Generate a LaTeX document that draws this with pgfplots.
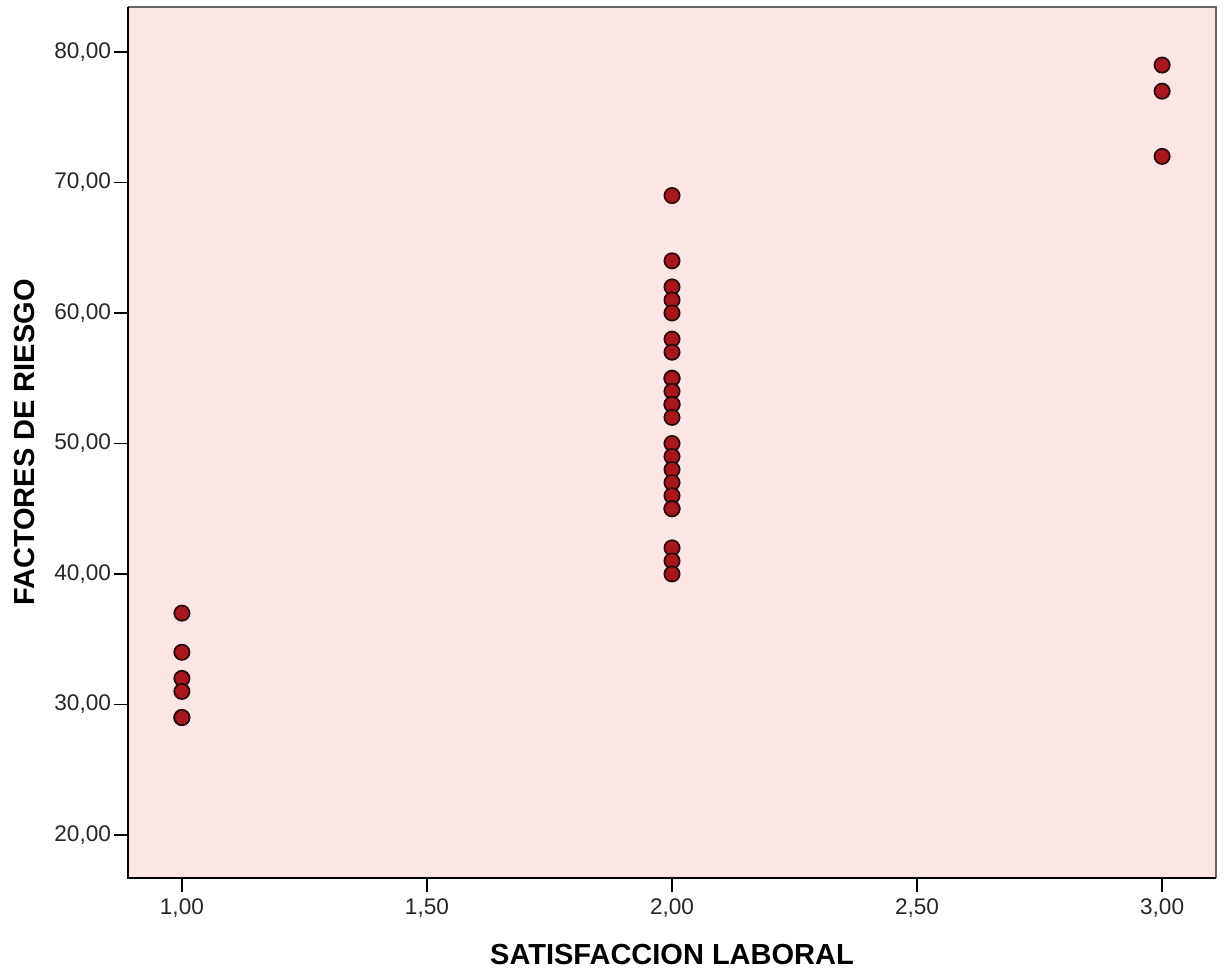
\documentclass[border=0pt]{standalone}
\usepackage{fontspec}
\setmainfont{Liberation Sans}
\usepackage{pgfplots}
\pgfplotsset{compat=1.18}
\definecolor{bgpink}{RGB}{251,229,229}
\definecolor{ptfill}{RGB}{170,22,30}
\definecolor{ptedge}{RGB}{45,10,10}
\begin{document}
\begin{tikzpicture}
\begin{axis}[
  scale only axis,
  width=544pt, height=435.5pt,
  xmin=0.89, xmax=3.11,
  ymin=16.7, ymax=83.45,
  xtick={1,1.5,2,2.5,3},
  ytick={20,30,40,50,60,70,80},
  tick align=outside,
  xtick pos=bottom, ytick pos=left,
  major tick length=7pt,
  tick style={black, line width=0.9pt},
  axis line style={draw=none},
  axis background/.style={fill=bgpink},
  /pgf/number format/.cd, fixed, fixed zerofill, precision=2, use comma, assume math mode=true,
  /pgfplots/.cd,
  ticklabel style={font=\fontsize{11.3}{13}\selectfont, text=black!85},
  xticklabel style={yshift=0pt},
  yticklabel style={xshift=2pt},
  xlabel={\textbf{SATISFACCION LABORAL}},
  ylabel={\textbf{FACTORES DE RIESGO}},
  label style={font=\fontsize{14.5}{16}\selectfont},
  xlabel style={at={(axis description cs:0.5,0)}, anchor=center, yshift=-38.5pt},
  ylabel style={at={(axis description cs:0,0.5)}, anchor=center, yshift=51.5pt},
  clip=false,
]
\addplot[only marks, mark=*, mark size=3.8pt, mark options={fill=ptfill, draw=ptedge, line width=0.9pt}]
 coordinates {
 (1,37) (1,34) (1,32) (1,31) (1,29) (1,29)
 (2,69) (2,64) (2,62) (2,61) (2,60) (2,58) (2,57) (2,55) (2,55) (2,54) (2,53) (2,53) (2,52)
 (2,50) (2,49) (2,48) (2,47) (2,46) (2,45) (2,45) (2,42) (2,41) (2,40)
 (3,79) (3,77) (3,72)
 };
\draw[gray!80!black, line width=1pt] (rel axis cs:0,1) -- (rel axis cs:1,1) -- (rel axis cs:1,0);
\draw[black, line width=1pt] (rel axis cs:0,1) -- (rel axis cs:0,0) -- (rel axis cs:1,0);
\end{axis}
\path (-64pt,-49pt) rectangle (550.5pt,439pt);
\end{tikzpicture}
\end{document}
